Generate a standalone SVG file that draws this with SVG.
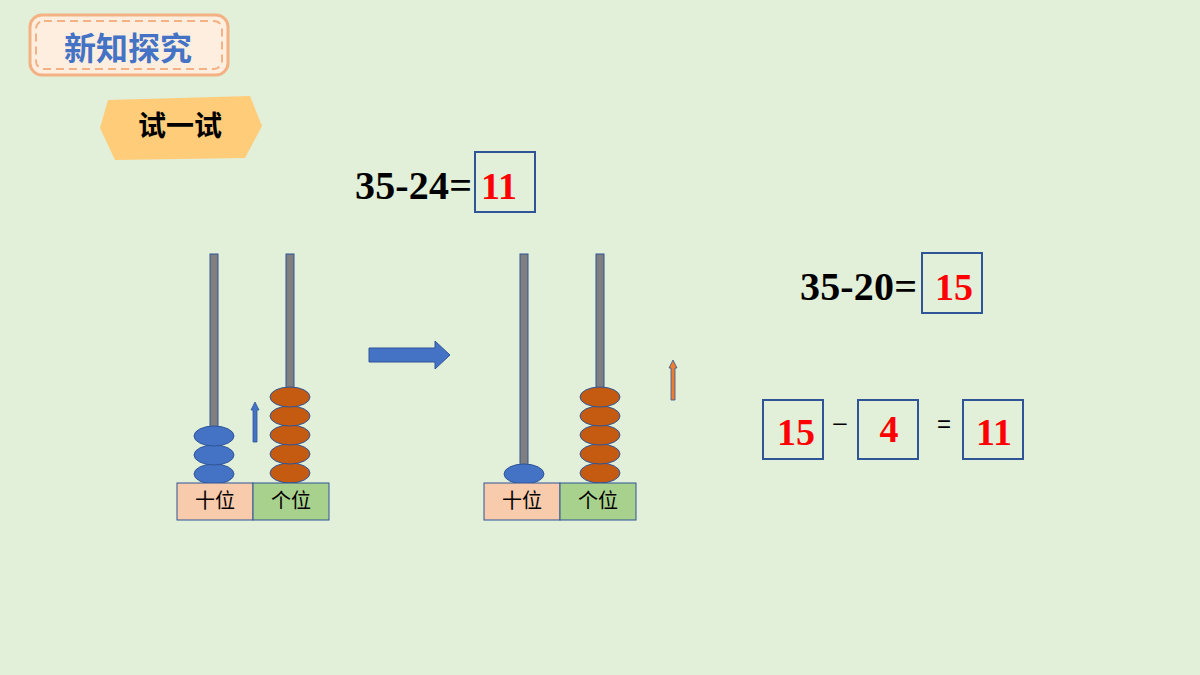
<svg xmlns="http://www.w3.org/2000/svg" width="1200" height="675" viewBox="0 0 1200 675">
<defs><style>
.rod{fill:#7f7f7f;stroke:#2f5597;stroke-width:1}
.bb{fill:#4472c4;stroke:#2f5597;stroke-width:1}
.ob{fill:#c55a11;stroke:#2f5597;stroke-width:1}
.cn{font-family:"Noto Sans CJK SC",sans-serif;font-size:20px;fill:#000}
.eq{font-family:"Liberation Serif",serif;font-weight:bold;font-size:40px;fill:#000}
.red{font-family:"Liberation Serif",serif;font-weight:bold;font-size:38px;fill:#ff0000}
.box{fill:none;stroke:#2f5597;stroke-width:2}
</style></defs>
<rect width="1200" height="675" fill="#e2efd9"/>
<g id="title">
<rect x="30" y="15" width="198" height="60" rx="12" fill="#fdeee0" stroke="#f4b183" stroke-width="3"/>
<rect x="36" y="21" width="186" height="48" rx="8" fill="none" stroke="#f4b183" stroke-width="2" stroke-dasharray="8 5"/>
<text x="128" y="60" text-anchor="middle" font-family="Noto Sans CJK SC,sans-serif" font-size="32" font-weight="bold" fill="#4472c4">新知探究</text>
</g>
<g id="try">
<path d="M108,100 L250,96 L262,126 L245,158 L115,160 L100,128 Z" fill="#ffcc7a"/>
<text x="180" y="136" text-anchor="middle" font-family="Noto Sans CJK SC,sans-serif" font-size="28" font-weight="bold" fill="#000">试一试</text>
</g>
<g id="eq1">
<text x="355" y="199" class="eq" textLength="117">35-24=</text>
<rect x="475" y="152" width="60" height="60" class="box"/>
<text x="499" y="199" text-anchor="middle" class="red">11</text>
</g>
<g id="abacus1">
<rect x="210" y="254" width="8" height="229" class="rod"/>
<rect x="286" y="254" width="8" height="229" class="rod"/>
<ellipse cx="214" cy="474" rx="20" ry="10" class="bb"/>
<ellipse cx="214" cy="455" rx="20" ry="10" class="bb"/>
<ellipse cx="214" cy="436" rx="20" ry="10" class="bb"/>
<ellipse cx="290" cy="473" rx="20" ry="10" class="ob"/>
<ellipse cx="290" cy="454" rx="20" ry="10" class="ob"/>
<ellipse cx="290" cy="435" rx="20" ry="10" class="ob"/>
<ellipse cx="290" cy="416" rx="20" ry="10" class="ob"/>
<ellipse cx="290" cy="397" rx="20" ry="10" class="ob"/>
<rect x="177" y="483" width="76" height="37" fill="#f8cbad" stroke="#2f5597"/>
<rect x="253" y="483" width="76" height="37" fill="#a9d18e" stroke="#2f5597"/>
<text x="215" y="508" text-anchor="middle" class="cn">十位</text>
<text x="291" y="508" text-anchor="middle" class="cn">个位</text>
</g>
<g id="abacus2">
<rect x="520" y="254" width="8" height="229" class="rod"/>
<rect x="596" y="254" width="8" height="229" class="rod"/>
<ellipse cx="524" cy="474" rx="20" ry="10" class="bb"/>
<ellipse cx="600" cy="473" rx="20" ry="10" class="ob"/>
<ellipse cx="600" cy="454" rx="20" ry="10" class="ob"/>
<ellipse cx="600" cy="435" rx="20" ry="10" class="ob"/>
<ellipse cx="600" cy="416" rx="20" ry="10" class="ob"/>
<ellipse cx="600" cy="397" rx="20" ry="10" class="ob"/>
<rect x="484" y="483" width="76" height="37" fill="#f8cbad" stroke="#2f5597"/>
<rect x="560" y="483" width="76" height="37" fill="#a9d18e" stroke="#2f5597"/>
<text x="522" y="508" text-anchor="middle" class="cn">十位</text>
<text x="598" y="508" text-anchor="middle" class="cn">个位</text>
</g>
<g id="connectors">
<path d="M369,348 L435,348 L435,341 L450,355 L435,369 L435,362 L369,362 Z" fill="#4472c4" stroke="#2f5597"/>
<path d="M253,442 L253,410 L251,410 L255,402 L259,410 L257,410 L257,442 Z" fill="#4472c4" stroke="#2f5597" stroke-width="0.8"/>
<path d="M671,400 L671,368 L669,368 L673,360 L677,368 L675,368 L675,400 Z" fill="#ed7d31" stroke="#2f5597" stroke-width="0.8"/>
</g>
<g id="eq2">
<text x="800" y="300" class="eq" textLength="117">35-20=</text>
<rect x="922" y="253" width="60" height="60" class="box"/>
<text x="954" y="300" text-anchor="middle" class="red">15</text>
</g>
<g id="eq3">
<rect x="763" y="400" width="60" height="59" class="box"/>
<text x="796" y="445" text-anchor="middle" class="red">15</text>
<text x="840" y="430" text-anchor="middle" font-family="Liberation Sans,sans-serif" font-size="24" fill="#000">–</text>
<rect x="858" y="400" width="60" height="59" class="box"/>
<text x="889" y="442" text-anchor="middle" class="red">4</text>
<text x="944" y="432" text-anchor="middle" font-family="Liberation Sans,sans-serif" font-size="24" fill="#000">=</text>
<rect x="963" y="400" width="60" height="59" class="box"/>
<text x="994" y="445" text-anchor="middle" class="red">11</text>
</g>
</svg>
